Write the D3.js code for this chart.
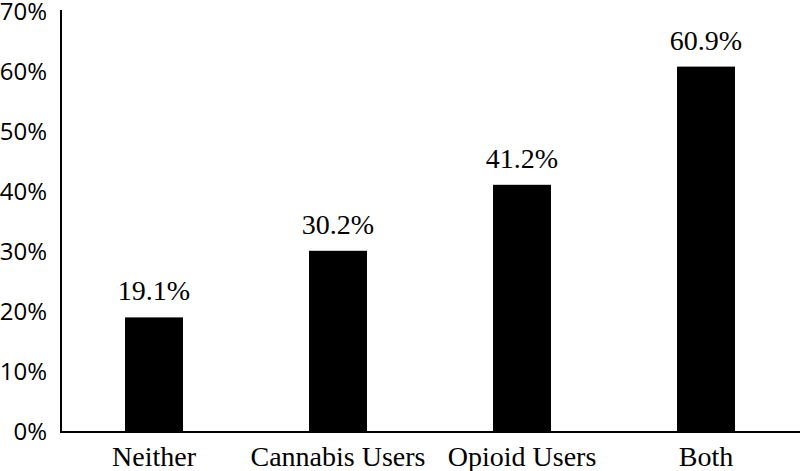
<!DOCTYPE html>
<html><head><meta charset="utf-8">
<script src="https://cdn.jsdelivr.net/npm/d3@7"></script>
<style>body{margin:0;background:#fff}</style>
</head><body>
<svg id="c" width="800" height="471"></svg>
<script>
const categories = ["Neither", "Cannabis Users", "Opioid Users", "Both"];
const values = [0.191, 0.302, 0.412, 0.609];
const valueLabels = ["19.1%", "30.2%", "41.2%", "60.9%"];
const yTicks = [0, 0.1, 0.2, 0.3, 0.4, 0.5, 0.6, 0.7];

const svg = d3.select("#c");
const x = d3.scaleBand().domain(categories).range([62, 798]).paddingInner(0.685).paddingOuter(0.3425);
const y = d3.scaleLinear().domain([0, 0.7]).range([432, 12]);

svg.selectAll("rect.bar").data(values).join("rect")
  .attr("class", "bar")
  .attr("x", (d, i) => x(categories[i]))
  .attr("width", x.bandwidth())
  .attr("y", d => y(d))
  .attr("height", d => y(0) - y(d))
  .attr("fill", "#000");

svg.selectAll("text.val").data(values).join("text")
  .attr("class", "val")
  .attr("x", (d, i) => x(categories[i]) + x.bandwidth() / 2)
  .attr("y", d => y(d) - 17)
  .attr("text-anchor", "middle")
  .attr("font-family", "Liberation Serif, Times New Roman, serif")
  .attr("font-size", 28)
  .text((d, i) => valueLabels[i]);

const yAxis = svg.append("g").attr("transform", "translate(61,0)")
  .call(d3.axisLeft(y).tickValues(yTicks).tickFormat(d3.format(".0%")).tickSize(0).tickPadding(14));
yAxis.select(".domain").attr("stroke", "#000").attr("stroke-width", 2).attr("d", "M0,10V432");
yAxis.selectAll("text").attr("font-family", "Open Sans, sans-serif").attr("font-size", 24).attr("fill", "#000");

const xAxis = svg.append("g").attr("transform", "translate(0,432)")
  .call(d3.axisBottom(x).tickSize(0).tickPadding(14));
xAxis.select(".domain").attr("stroke", "#000").attr("stroke-width", 2).attr("d", "M60,0H800");
xAxis.selectAll("text").attr("font-family", "Liberation Serif, Times New Roman, serif").attr("font-size", 28).attr("fill", "#000");
</script>
</body></html>
